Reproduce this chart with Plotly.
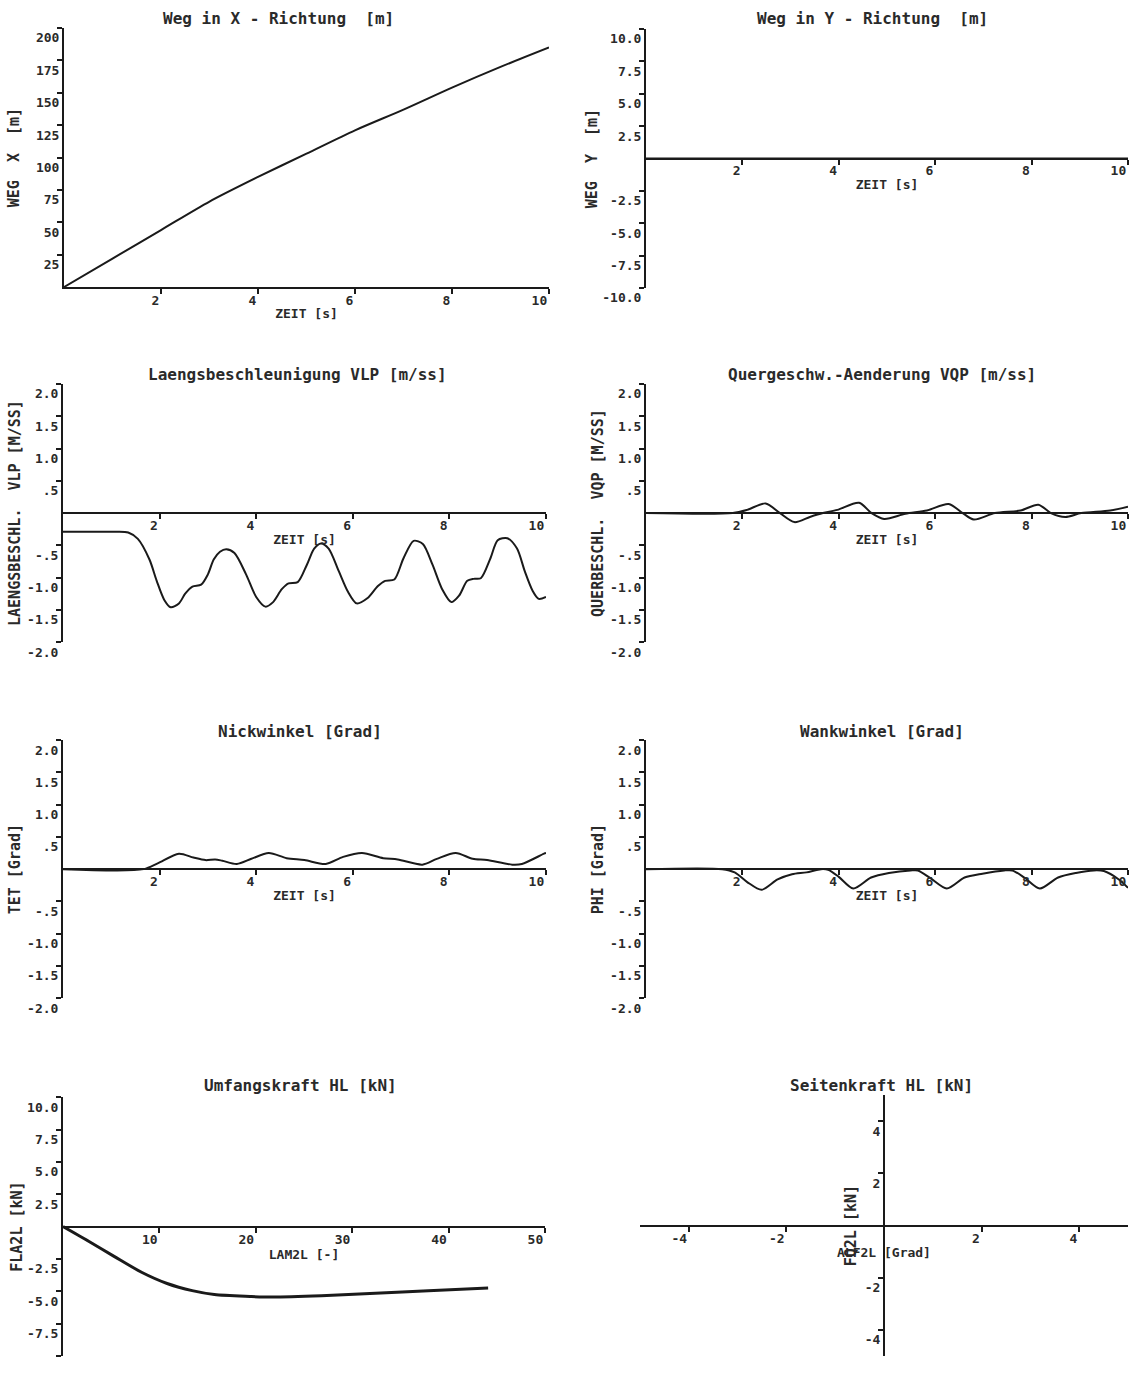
import plotly.graph_objects as go

W, H = 1135, 1373
# the photographed page shows the figure slightly compressed vertically; geometry below is
# given in reference-picture pixels and stretched by this factor
KY = 1.0127

# ---------------- data ----------------
zeit_weg = [0, 1, 2, 3, 4, 5, 6, 7, 8, 9, 10]
weg_x = [0, 22, 44, 66, 85, 103, 121, 137, 154, 170, 185]
weg_y = [0, 0, 0, 0, 0, 0, 0, 0, 0, 0, 0]

zeit_vlp = [0, 1.0, 1.35, 1.55, 1.79, 1.94, 2.1, 2.23, 2.4, 2.53, 2.68, 2.86, 3.0, 3.12, 3.25, 3.38,
            3.55, 3.79, 4.0, 4.19, 4.35, 4.53, 4.67, 4.86, 5.05, 5.2, 5.34, 5.5, 5.71, 5.9, 6.08,
            6.3, 6.52, 6.67, 6.86, 7.05, 7.26, 7.45, 7.65, 7.85, 8.04, 8.2, 8.37, 8.5, 8.65, 8.85,
            9.0, 9.2, 9.4, 9.56, 9.72, 9.85, 10.0]
vlp = [-0.29, -0.29, -0.30, -0.40, -0.72, -1.05, -1.35, -1.46, -1.40, -1.25, -1.14, -1.11, -0.95,
       -0.72, -0.60, -0.56, -0.62, -0.95, -1.30, -1.45, -1.38, -1.18, -1.09, -1.07, -0.80, -0.55,
       -0.47, -0.55, -0.90, -1.22, -1.40, -1.32, -1.13, -1.05, -1.03, -0.70, -0.43, -0.48, -0.80,
       -1.18, -1.38, -1.28, -1.05, -1.02, -1.01, -0.70, -0.42, -0.39, -0.55, -0.90, -1.20, -1.33,
       -1.30]

zeit_vqp = [0, 1.8, 2.1, 2.48, 2.78, 3.08, 3.4, 3.67, 3.97, 4.42, 4.68, 4.94, 5.38, 5.83, 6.28,
            6.57, 6.8, 7.24, 7.77, 8.14, 8.4, 8.7, 9.03, 9.63, 10]
vqp = [0, 0, 0.05, 0.15, 0.0, -0.14, -0.06, 0, 0.05, 0.16, 0, -0.09, -0.01, 0.04, 0.14, 0, -0.10,
       0, 0.04, 0.13, 0, -0.06, 0, 0.04, 0.10]

zeit_tet = [0, 1.67, 1.96, 2.4, 2.7, 2.95, 3.15, 3.3, 3.6, 3.9, 4.26, 4.63, 5.0, 5.44, 5.8, 6.19,
            6.63, 6.93, 7.44, 7.74, 8.13, 8.48, 8.78, 9.3, 9.5, 9.96, 10]
tet = [0, 0, 0.09, 0.24, 0.18, 0.14, 0.15, 0.13, 0.08, 0.16, 0.25, 0.17, 0.14, 0.08, 0.19, 0.25,
       0.17, 0.15, 0.07, 0.16, 0.25, 0.16, 0.14, 0.07, 0.08, 0.24, 0.25]

zeit_phi = [0, 1.58, 1.84, 2.1, 2.4, 2.73, 3.03, 3.33, 3.63, 3.78, 4.0, 4.3, 4.67, 5.04, 5.49, 5.64,
            5.9, 6.24, 6.61, 6.98, 7.43, 7.6, 7.85, 8.17, 8.55, 8.92, 9.29, 9.5, 9.81, 10]
phi = [0, 0, -0.05, -0.2, -0.32, -0.16, -0.08, -0.05, 0, -0.01, -0.12, -0.30, -0.13, -0.06, -0.02,
       -0.02, -0.14, -0.30, -0.13, -0.07, -0.02, -0.02, -0.13, -0.30, -0.13, -0.06, -0.02, -0.03,
       -0.16, -0.29]

lam2l = [0, 2.7, 5.3, 8.2, 10.8, 13.4, 15.7, 19.4, 21.6, 26.8, 32.4, 37.9, 44.1]
fla2l = [0, -1.15, -2.3, -3.55, -4.4, -4.95, -5.25, -5.4, -5.45, -5.35, -5.15, -4.95, -4.75]

alf2l = []
fq2l = []

# tick labels
t_zeit_vals = [2, 4, 6, 8, 10]
t_zeit_text = ["2", "4", "6", "8", "10"]
t_wegx_vals = [25, 50, 75, 100, 125, 150, 175, 200]
t_wegx_text = ["25", "50", "75", "100", "125", "150", "175", "200"]
t_10_vals = [10, 7.5, 5, 2.5, -2.5, -5, -7.5, -10]
t_10_text = ["10.0", "7.5", "5.0", "2.5", "-2.5", "-5.0", "-7.5", "-10.0"]
t_2_vals = [2, 1.5, 1, 0.5, -0.5, -1, -1.5, -2]
t_2_text = ["2.0", "1.5", "1.0", ".5", "-.5", "-1.0", "-1.5", "-2.0"]
t_lam_vals = [10, 20, 30, 40, 50]
t_lam_text = ["10", "20", "30", "40", "50"]
t_alf_vals = [-4, -2, 2, 4]
t_alf_text = ["-4", "-2", "2", "4"]

titles = ["Weg in X - Richtung  [m]", "Weg in Y - Richtung  [m]",
          "Laengsbeschleunigung VLP [m/ss]", "Quergeschw.-Aenderung VQP [m/ss]",
          "Nickwinkel [Grad]", "Wankwinkel [Grad]",
          "Umfangskraft HL [kN]", "Seitenkraft HL [kN]"]

# ---------------- layout geometry (reference pixels) ----------------
panels = [
    dict(xs=(64, 549), ys=(28, 287), xr=[0, 10], yr=[0, 200], xt=(t_zeit_vals, t_zeit_text),
         yt=(t_wegx_vals, t_wegx_text), xtitle="ZEIT [s]", ytitle="WEG  X  [m]",
         data=(zeit_weg, weg_x), title_xy=(278, 18), xfree=False, yfree=False, lw=2, so=13),
    dict(xs=(646, 1128), ys=(29, 288), xr=[0, 10], yr=[-10, 10], xt=(t_zeit_vals, t_zeit_text),
         yt=(t_10_vals, t_10_text), xtitle="ZEIT [s]", ytitle="WEG  Y  [m]",
         data=(zeit_weg, weg_y), title_xy=(872, 18), xfree=True, yfree=False, lw=2, so=1),
    dict(xs=(63, 546), ys=(384, 642), xr=[0, 10], yr=[-2, 2], xt=(t_zeit_vals, t_zeit_text),
         yt=(t_2_vals, t_2_text), xtitle="ZEIT [s]", ytitle="LAENGSBESCHL.  VLP [M/SS]",
         data=(zeit_vlp, vlp), title_xy=(297, 374), xfree=True, yfree=False, lw=2, so=3),
    dict(xs=(646, 1128), ys=(384, 642), xr=[0, 10], yr=[-2, 2], xt=(t_zeit_vals, t_zeit_text),
         yt=(t_2_vals, t_2_text), xtitle="ZEIT [s]", ytitle="QUERBESCHL.  VQP [M/SS]",
         data=(zeit_vqp, vqp), title_xy=(882, 374), xfree=True, yfree=False, lw=2, so=3),
    dict(xs=(63, 546), ys=(740, 998), xr=[0, 10], yr=[-2, 2], xt=(t_zeit_vals, t_zeit_text),
         yt=(t_2_vals, t_2_text), xtitle="ZEIT [s]", ytitle="TET [Grad]",
         data=(zeit_tet, tet), title_xy=(300, 731), xfree=True, yfree=False, lw=2, so=3),
    dict(xs=(646, 1128), ys=(740, 998), xr=[0, 10], yr=[-2, 2], xt=(t_zeit_vals, t_zeit_text),
         yt=(t_2_vals, t_2_text), xtitle="ZEIT [s]", ytitle="PHI [Grad]",
         data=(zeit_phi, phi), title_xy=(882, 731), xfree=True, yfree=False, lw=2, so=3),
    dict(xs=(63, 545), ys=(1097, 1357), xr=[0, 50], yr=[-10, 10], xt=(t_lam_vals, t_lam_text),
         yt=(t_10_vals, t_10_text), xtitle="LAM2L [-]", ytitle="FLA2L [kN]",
         data=(lam2l, fla2l), title_xy=(300, 1085), xfree=True, yfree=False, lw=3, so=1),
    dict(xs=(640, 1128), ys=(1095, 1357), xr=[-5, 5], yr=[-5, 5], xt=(t_alf_vals, t_alf_text),
         yt=(t_alf_vals, t_alf_text), xtitle="ALF2L [Grad]", ytitle="FQ2L [kN]",
         data=(alf2l, fq2l), title_xy=(881, 1085), xfree=True, yfree=True, lw=2, so=3),
]

FONT = "DejaVu Sans Mono"
INK = "#1a1a1a"
TXT = "#2a2a2a"

fig = go.Figure()
layout = dict(width=W, height=H, margin=dict(l=0, r=0, t=0, b=0),
              paper_bgcolor="white", plot_bgcolor="white", showlegend=False,
              font=dict(family=FONT, color=TXT), annotations=[])


def fx(p):
    return min(1.0, max(0.0, p / W))


def fy(p):
    return min(1.0, max(0.0, 1 - p * KY / H))


for i, p in enumerate(panels, start=1):
    sx = "" if i == 1 else str(i)
    xname, yname = "x" + sx, "y" + sx
    x0, x1 = p["xs"]
    yt_, yb_ = p["ys"]
    xdom = [fx(x0), fx(x1)]
    ydom = [fy(yb_), fy(yt_)]
    ymin, ymax = p["yr"]
    xmin, xmax = p["xr"]
    zero_py = yt_ + (ymax - 0) / (ymax - ymin) * (yb_ - yt_)
    zero_px = x0 + (0 - xmin) / (xmax - xmin) * (x1 - x0)

    common = dict(showgrid=False, zeroline=False, showline=True, linecolor=INK, linewidth=2,
                  ticks="outside", ticklen=5, tickwidth=1.5, tickcolor=INK,
                  tickfont=dict(family=FONT, size=13, color=TXT, weight="bold"), fixedrange=True)

    xa = dict(common, domain=xdom, range=p["xr"], tickmode="array",
              tickvals=p["xt"][0], ticktext=p["xt"][1], ticklabelposition="outside left",
              title=dict(text=p["xtitle"], font=dict(family=FONT, size=13, color=TXT, weight="bold"),
                         standoff=2))
    if p["xfree"]:
        xa.update(anchor="free", position=fy(zero_py))
    else:
        xa.update(anchor=yname)

    ya = dict(common, domain=ydom, range=p["yr"], tickmode="array",
              tickvals=p["yt"][0], ticktext=p["yt"][1], ticklabelposition="outside bottom",
              title=dict(text=p["ytitle"], font=dict(family=FONT, size=15, color=TXT, weight="bold"),
                         standoff=p["so"]))
    if p["yfree"]:
        ya.update(anchor="free", position=fx(zero_px))
    else:
        ya.update(anchor=xname)

    layout["xaxis" + sx] = xa
    layout["yaxis" + sx] = ya

    fig.add_trace(go.Scatter(x=p["data"][0], y=p["data"][1], mode="lines",
                             line=dict(color=INK, width=p["lw"], shape="spline", smoothing=0.8),
                             xaxis=xname, yaxis=yname, hoverinfo="skip"))

    tx, ty = p["title_xy"]
    layout["annotations"].append(dict(text=titles[i - 1], x=fx(tx), y=fy(ty), xref="paper",
                                      yref="paper", showarrow=False, xanchor="center",
                                      yanchor="middle",
                                      font=dict(family=FONT, size=16, color=TXT, weight="bold")))

fig.update_layout(**layout)
fig.write_html("out.html", config={"displayModeBar": False},
               post_script="document.body.style.margin='0';document.body.style.overflow='hidden';")
